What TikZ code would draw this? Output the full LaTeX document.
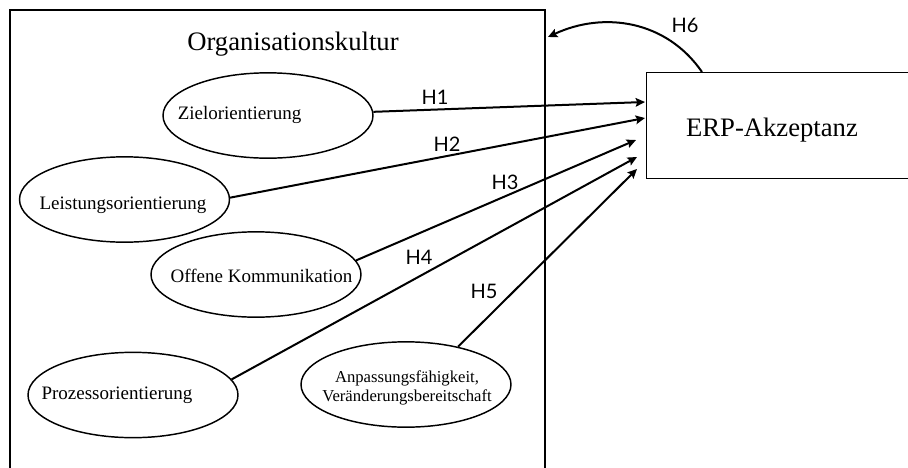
\documentclass[tikz,border=0pt]{standalone}
\usepackage{fontspec}
\setmainfont{Liberation Serif}
\newfontfamily\hypfont{Lato}
\usetikzlibrary{arrows.meta,shapes.geometric}
\begin{document}
\begin{tikzpicture}[x=0.75pt,y=-0.75pt,
  frame/.style={line width=1.1pt},
  construct/.style={draw, ellipse, line width=1.1pt, inner sep=0pt,
    minimum width=157.5pt, minimum height=64pt},
  ctext/.style={anchor=base, inner sep=0pt, font=\fontsize{14.25pt}{17pt}\selectfont},
  bigtext/.style={anchor=base, inner sep=0pt, font=\fontsize{20pt}{24pt}\selectfont},
  hyplabel/.style={inner sep=0pt, font=\hypfont\fontsize{15pt}{18pt}\selectfont},
  hyp/.style={line width=1.5pt, -{Stealth[length=7pt,width=6.5pt,inset=1.2pt]}}
]
\useasboundingbox (0,0) rectangle (908,468);

% organisational culture frame (runs off the bottom)
\draw[frame] (10,480) -- (10,10) -- (545,10) -- (545,480);
\node[bigtext] (title) at (293,50) {Organisationskultur};

% acceptance box (runs off the right edge)
\node[draw, frame, anchor=north west, inner sep=0pt,
      minimum width=200pt, minimum height=79.5pt] (erp) at (646,72) {};
\node[bigtext] (erptext) at (772,136) {ERP-Akzeptanz};

% culture dimensions
\node[construct] (ziel)  at (268,115.5) {};
\node[construct] (leist) at (124.5,199.5) {};
\node[construct] (off)   at (256,274.5) {};
\node[construct] (proz)  at (133,395) {};
\node[construct] (anp)   at (406,384.5) {};

\node[ctext] (zieltext)  at (239.5,119) {Zielorientierung};
\node[ctext] (leisttext) at (123,209) {Leistungsorientierung};
\node[ctext] (offtext)   at (261.5,282) {Offene Kommunikation};
\node[ctext] (proztext)  at (117,399) {Prozessorientierung};
\node[anchor=center, inner sep=0pt, align=center,
      font=\fontsize{12.5pt}{14.25pt}\selectfont] (anptext) at (407,387.5)
      {Anpassungsfähigkeit,\\Veränderungsbereitschaft};

% arrow end points in front of the acceptance box
\coordinate (t1) at (645,102);
\coordinate (t2) at (645,118);
\coordinate (t3) at (636,140);
\coordinate (t4) at (637,157);
\coordinate (t5) at (637,169);
\coordinate (h6s) at (702,72);
\coordinate (h6e) at (548,37);

% hypotheses
\draw[hyp] (ziel.2.5) -- (t1);
\draw[hyp] (leist.1.5) -- (t2);
\draw[hyp] (off.8.5) -- (t3);
\draw[hyp] (proz.9.7) -- (t4);
\draw[hyp] (anp.36) -- (t5);
\draw[hyp] (h6s) .. controls (666.6,20.5) and (603.9,10.9) .. (h6e);

\node[hyplabel] (h1) at (435,97) {H1};
\node[hyplabel] (h2) at (447,144) {H2};
\node[hyplabel] (h3) at (505,182) {H3};
\node[hyplabel] (h4) at (419,257) {H4};
\node[hyplabel] (h5) at (484,291) {H5};
\node[hyplabel] (h6) at (685,25) {H6};
\end{tikzpicture}
\end{document}
